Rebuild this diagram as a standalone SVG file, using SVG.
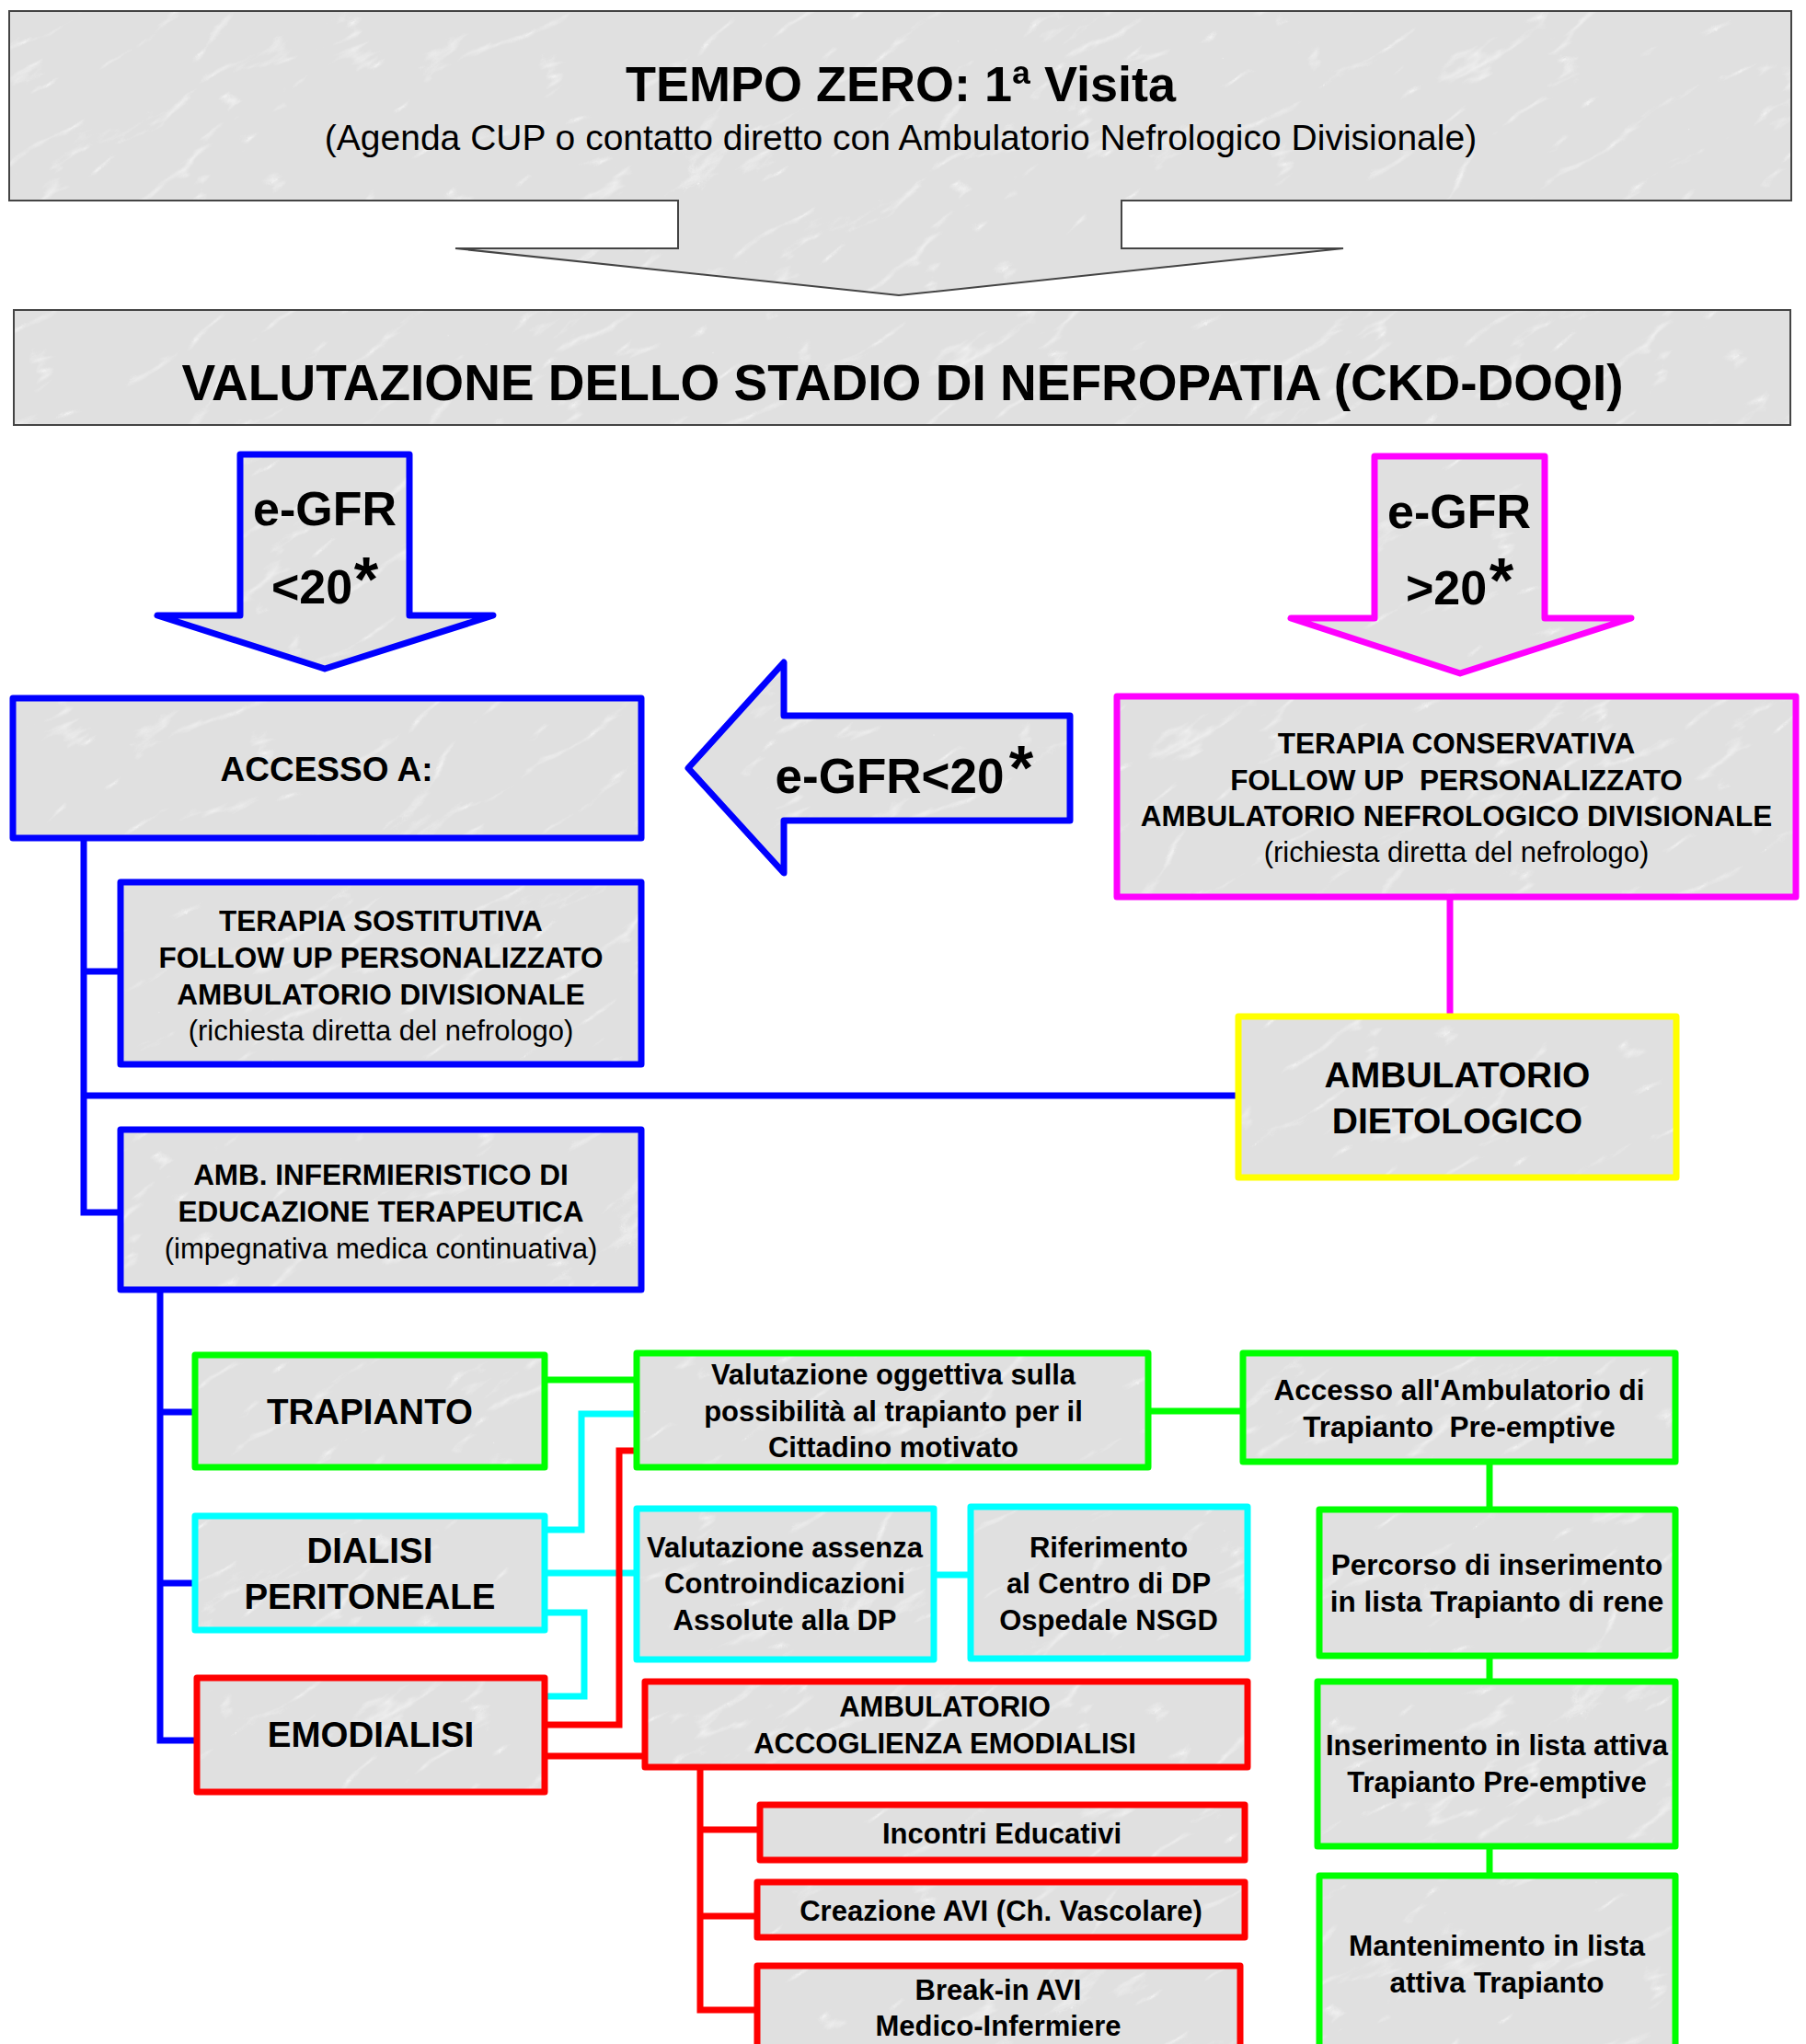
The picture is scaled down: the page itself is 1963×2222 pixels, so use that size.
<svg xmlns="http://www.w3.org/2000/svg" width="1963" height="2222" viewBox="0 0 1963 2222">
<defs>
<style>
text{font-family:"Liberation Sans",Arial,Helvetica,sans-serif;fill:#000;text-anchor:middle}
.b{font-weight:bold}
.n{font-weight:normal}
.box{fill:url(#marble);stroke-width:7;stroke-linejoin:round}
.gray{fill:url(#marble);stroke:#444;stroke-width:2}
.blue{stroke:#0000ff}
.mag{stroke:#ff00ff}
.yel{stroke:#ffff00}
.grn{stroke:#00ff00}
.cya{stroke:#00ffff}
.red{stroke:#ff0000}
.ln{fill:none;stroke-width:7;stroke-linejoin:miter}
</style>
<filter id="veins" x="0" y="0" width="100%" height="100%" color-interpolation-filters="sRGB">
<feTurbulence type="turbulence" baseFrequency="0.006 0.018" numOctaves="4" seed="11" stitchTiles="stitch"/>
<feColorMatrix type="matrix" values="0 0 0 0 1  0 0 0 0 1  0 0 0 0 1  -5 0 0 0 0.75"/>
</filter>
<pattern id="marble" patternUnits="userSpaceOnUse" width="640" height="480" patternTransform="rotate(-30)">
<rect width="640" height="480" fill="#e0e0e0"/>
<rect width="640" height="480" filter="url(#veins)" opacity="0.7"/>
</pattern>
</defs>
<rect width="1963" height="2222" fill="#fff"/>

<g id="tempo-zero">
<path class="gray" d="M10,12 H1947 V218 H1219 V270 H1460 L977,321 L495,270 H737 V218 H10 Z"/>
<text class="b" x="979" y="110" font-size="54">TEMPO ZERO: 1ª Visita</text>
<text class="n" x="979" y="163" font-size="39">(Agenda CUP o contatto diretto con Ambulatorio Nefrologico Divisionale)</text>
</g>

<g id="valutazione-stadio">
<rect class="gray" x="15" y="337" width="1931" height="125"/>
<text class="b" x="981" y="435" font-size="56" textLength="1567" lengthAdjust="spacingAndGlyphs">VALUTAZIONE DELLO STADIO DI NEFROPATIA (CKD-DOQI)</text>
</g>

<g id="arrow-egfr-lt20">
<path class="box blue" d="M261,494 H445 V669 H536 L353,727 L171,669 H261 Z"/>
<text class="b" x="353" y="571" font-size="52">e-GFR</text>
<text class="b" x="339" y="656" font-size="52">&lt;20</text>
<text class="b" x="398" y="653" font-size="68">*</text>
</g>

<g id="arrow-egfr-gt20">
<path class="box mag" d="M1494,496 H1679 V672 H1773 L1587,732 L1403,672 H1494 Z"/>
<text class="b" x="1586" y="574" font-size="52">e-GFR</text>
<text class="b" x="1572" y="657" font-size="52">&gt;20</text>
<text class="b" x="1632" y="654" font-size="68">*</text>
</g>

<g id="arrow-egfr-left">
<path class="box blue" d="M748,835 L852,720 V778 H1163 V892 H852 V949 Z"/>
<text class="b" x="967" y="862" font-size="53">e-GFR&lt;20</text>
<text class="b" x="1110" y="858" font-size="68">*</text>
</g>

<g id="connectors">
<path class="ln blue" d="M91,911 V1318 H131"/>
<path class="ln blue" d="M91,1056 H131"/>
<path class="ln blue" d="M91,1191 H1346"/>
<path class="ln blue" d="M174,1402 V1892 H212"/>
<path class="ln blue" d="M174,1535 H212"/>
<path class="ln blue" d="M174,1721 H212"/>
<path class="ln mag" d="M1576,975 V1105"/>
<path class="ln grn" d="M592,1500 H692"/>
<path class="ln grn" d="M1248,1534 H1351"/>
<path class="ln grn" d="M1619,1589 V1641"/>
<path class="ln grn" d="M1619,1800 V1828"/>
<path class="ln grn" d="M1619,2007 V2039"/>
<path class="ln cya" d="M592,1663 H632 V1537 H692"/>
<path class="ln cya" d="M592,1710 H692"/>
<path class="ln cya" d="M592,1753 H635 V1844 H592"/>
<path class="ln cya" d="M1015,1712 H1055"/>
<path class="ln red" d="M592,1875 H673 V1577 H692"/>
<path class="ln red" d="M592,1909 H701"/>
<path class="ln red" d="M761,1921 V2185 H823"/>
<path class="ln red" d="M761,1989 H826"/>
<path class="ln red" d="M761,2083 H823"/>
</g>

<g id="accesso-a">
<rect class="box blue" x="14" y="759" width="683" height="152"/>
<text class="b" x="355" y="849" font-size="37">ACCESSO A:</text>
</g>

<g id="terapia-sostitutiva">
<rect class="box blue" x="131" y="959" width="566" height="198"/>
<text class="b" x="414" y="1012" font-size="31.5">TERAPIA SOSTITUTIVA</text>
<text class="b" x="414" y="1052" font-size="31.5">FOLLOW UP PERSONALIZZATO</text>
<text class="b" x="414" y="1092" font-size="31.5">AMBULATORIO DIVISIONALE</text>
<text class="n" x="414" y="1131" font-size="31">(richiesta diretta del nefrologo)</text>
</g>

<g id="amb-infermieristico">
<rect class="box blue" x="131" y="1228" width="566" height="174"/>
<text class="b" x="414" y="1288" font-size="31.5">AMB. INFERMIERISTICO DI</text>
<text class="b" x="414" y="1328" font-size="31.5">EDUCAZIONE TERAPEUTICA</text>
<text class="n" x="414" y="1368" font-size="31">(impegnativa medica continuativa)</text>
</g>

<g id="terapia-conservativa">
<rect class="box mag" x="1214" y="757" width="738" height="218"/>
<text class="b" x="1583" y="819" font-size="31.5">TERAPIA CONSERVATIVA</text>
<text class="b" x="1583" y="859" font-size="31.5" xml:space="preserve">FOLLOW UP  PERSONALIZZATO</text>
<text class="b" x="1583" y="898" font-size="31.5">AMBULATORIO NEFROLOGICO DIVISIONALE</text>
<text class="n" x="1583" y="937" font-size="31">(richiesta diretta del nefrologo)</text>
</g>

<g id="ambulatorio-dietologico">
<rect class="box yel" x="1346" y="1105" width="476" height="175"/>
<text class="b" x="1584" y="1182" font-size="39">AMBULATORIO</text>
<text class="b" x="1584" y="1232" font-size="39">DIETOLOGICO</text>
</g>

<g id="trapianto">
<rect class="box grn" x="212" y="1473" width="380" height="122"/>
<text class="b" x="402" y="1548" font-size="38.5">TRAPIANTO</text>
</g>

<g id="dialisi-peritoneale">
<rect class="box cya" x="212" y="1648" width="380" height="124"/>
<text class="b" x="402" y="1699" font-size="38.5">DIALISI</text>
<text class="b" x="402" y="1749" font-size="38.5">PERITONEALE</text>
</g>

<g id="emodialisi">
<rect class="box red" x="214" y="1824" width="378" height="124"/>
<text class="b" x="403" y="1899" font-size="38.5">EMODIALISI</text>
</g>

<g id="valutazione-oggettiva">
<rect class="box grn" x="692" y="1471" width="556" height="124"/>
<text class="b" x="971" y="1505" font-size="31">Valutazione oggettiva sulla</text>
<text class="b" x="971" y="1545" font-size="31">possibilità al trapianto per il</text>
<text class="b" x="971" y="1584" font-size="31">Cittadino motivato</text>
</g>

<g id="valutazione-assenza">
<rect class="box cya" x="692" y="1640" width="323" height="164"/>
<text class="b" x="853" y="1693" font-size="31">Valutazione assenza</text>
<text class="b" x="853" y="1732" font-size="31">Controindicazioni</text>
<text class="b" x="853" y="1772" font-size="31">Assolute alla DP</text>
</g>

<g id="riferimento-dp">
<rect class="box cya" x="1055" y="1638" width="301" height="165"/>
<text class="b" x="1205" y="1693" font-size="31">Riferimento</text>
<text class="b" x="1205" y="1732" font-size="31">al Centro di DP</text>
<text class="b" x="1205" y="1772" font-size="31">Ospedale NSGD</text>
</g>

<g id="ambulatorio-accoglienza">
<rect class="box red" x="701" y="1828" width="655" height="93"/>
<text class="b" x="1027" y="1866" font-size="31">AMBULATORIO</text>
<text class="b" x="1027" y="1906" font-size="31">ACCOGLIENZA EMODIALISI</text>
</g>

<g id="incontri-educativi">
<rect class="box red" x="826" y="1962" width="527" height="60"/>
<text class="b" x="1089" y="2004" font-size="31">Incontri Educativi</text>
</g>

<g id="creazione-avi">
<rect class="box red" x="823" y="2046" width="530" height="60"/>
<text class="b" x="1088" y="2088" font-size="31">Creazione AVI (Ch. Vascolare)</text>
</g>

<g id="break-in-avi">
<rect class="box red" x="823" y="2137" width="525" height="120"/>
<text class="b" x="1085" y="2174" font-size="31">Break-in AVI</text>
<text class="b" x="1085" y="2213" font-size="31">Medico-Infermiere</text>
</g>

<g id="accesso-ambulatorio-trapianto">
<rect class="box grn" x="1351" y="1471" width="470" height="118"/>
<text class="b" x="1586" y="1522" font-size="31.5">Accesso all'Ambulatorio di</text>
<text class="b" x="1586" y="1562" font-size="31.5" xml:space="preserve">Trapianto  Pre-emptive</text>
</g>

<g id="percorso-inserimento">
<rect class="box grn" x="1434" y="1641" width="387" height="159"/>
<text class="b" x="1627" y="1712" font-size="31.5">Percorso di inserimento</text>
<text class="b" x="1627" y="1752" font-size="31.5">in lista Trapianto di rene</text>
</g>

<g id="inserimento-lista">
<rect class="box grn" x="1432" y="1828" width="389" height="179"/>
<text class="b" x="1627" y="1908" font-size="31">Inserimento in lista attiva</text>
<text class="b" x="1627" y="1948" font-size="31">Trapianto Pre-emptive</text>
</g>

<g id="mantenimento-lista">
<rect class="box grn" x="1434" y="2039" width="387" height="220"/>
<text class="b" x="1627" y="2126" font-size="31.5">Mantenimento in lista</text>
<text class="b" x="1627" y="2166" font-size="31.5">attiva Trapianto</text>
</g>
</svg>
